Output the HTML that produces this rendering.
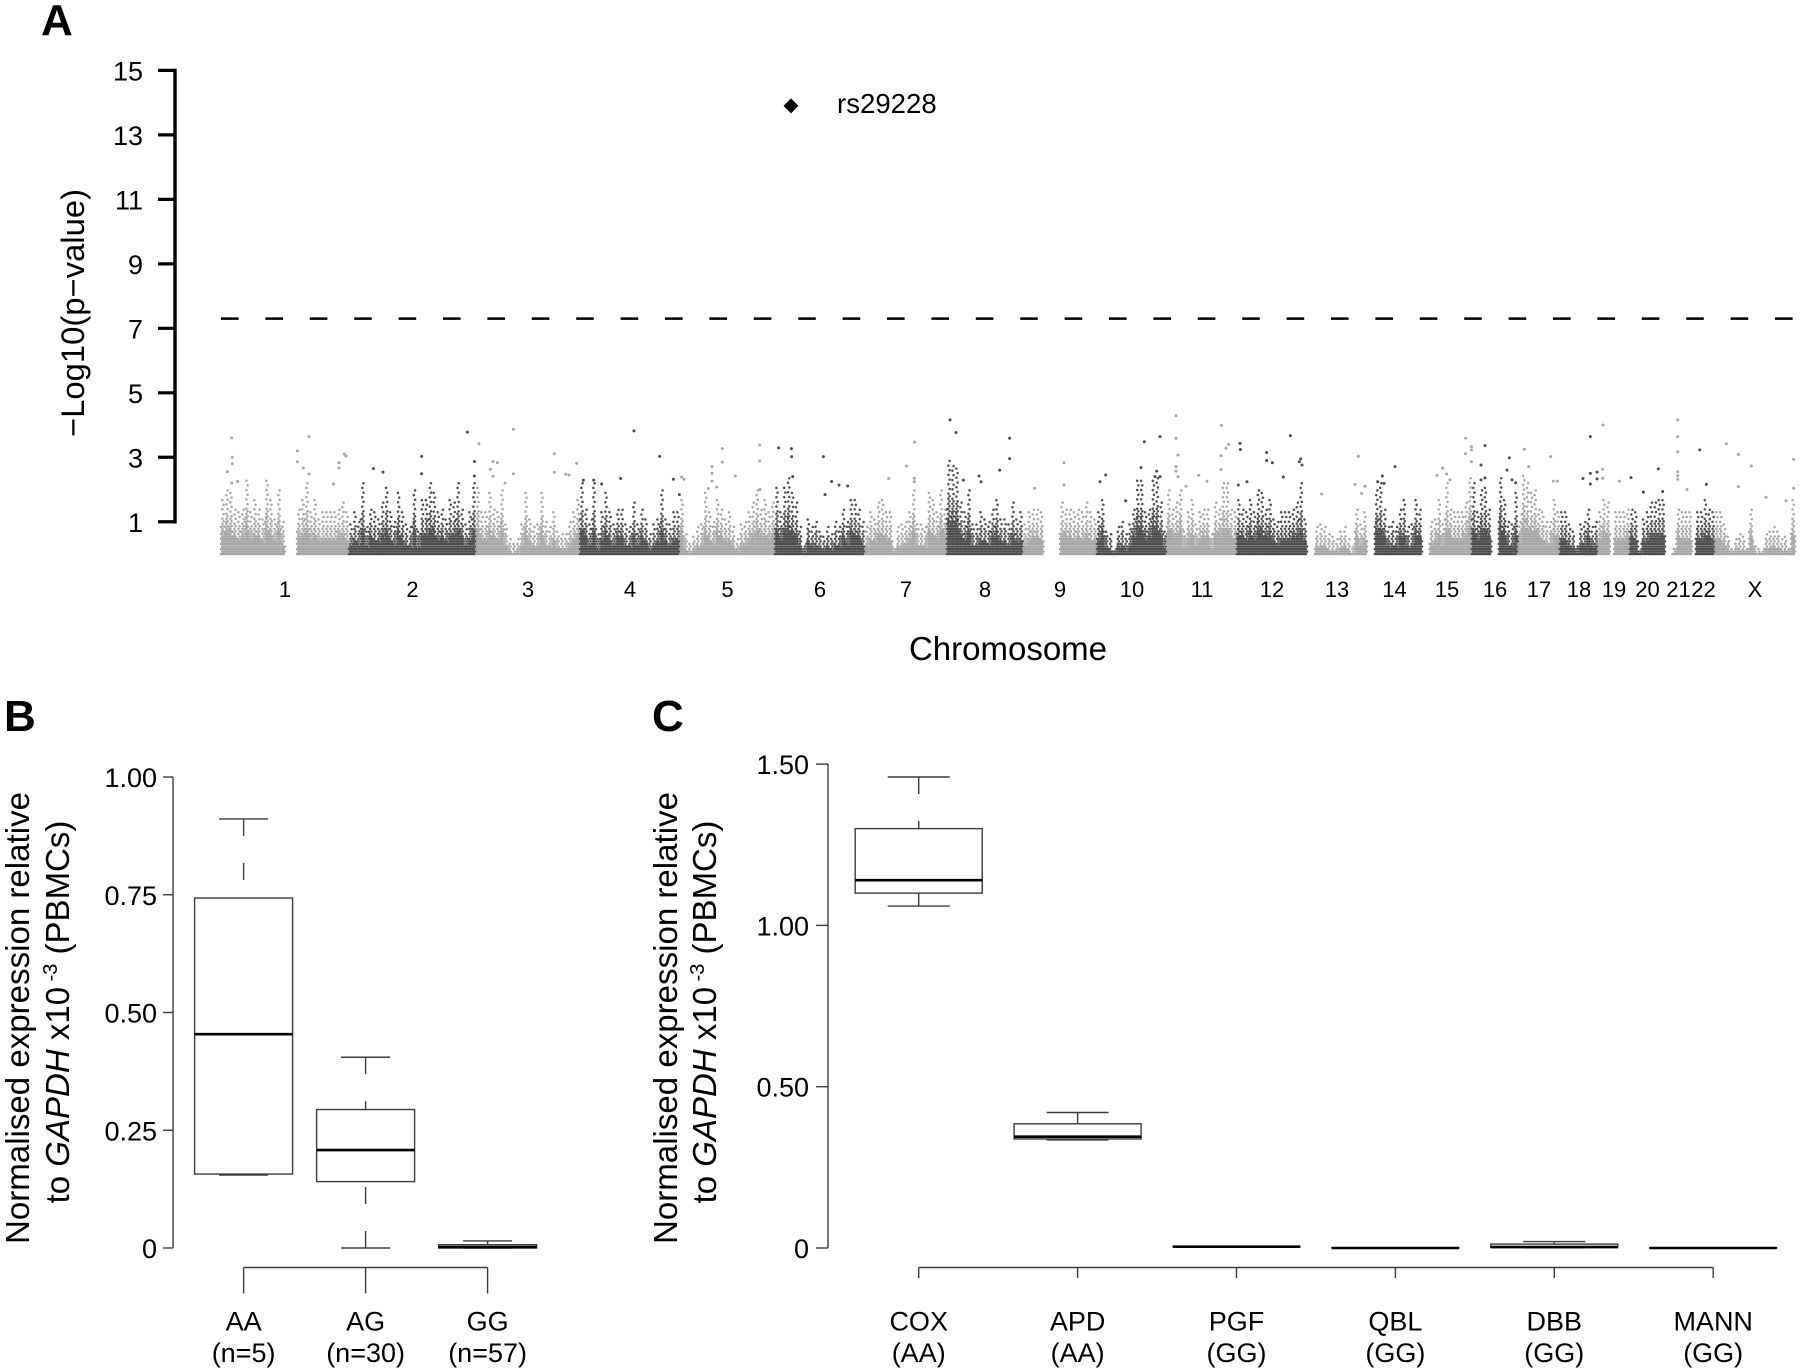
<!DOCTYPE html>
<html lang="en">
<head>
<meta charset="utf-8">
<title>Manhattan plot and expression box plots</title>
<style>
html,body{margin:0;padding:0;background:#fff;}
svg{display:block;font-family:"Liberation Sans",sans-serif;fill:#000;}
</style>
</head>
<body>
<svg id="figure" xmlns="http://www.w3.org/2000/svg" width="1800" height="1372" viewBox="0 0 1800 1372">
  <rect x="0" y="0" width="1800" height="1372" fill="#fff"/>
  <text x="41" y="35" font-size="44" font-weight="700">A</text>
  <text x="4" y="731" font-size="44" font-weight="700">B</text>
  <text x="652" y="731" font-size="44" font-weight="700">C</text>
  <text transform="translate(84,313) rotate(-90)" text-anchor="middle" font-size="32" textLength="248" lengthAdjust="spacingAndGlyphs">−Log10(p−value)</text>
  <text x="1008" y="660" text-anchor="middle" font-size="33">Chromosome</text>
  <text transform="translate(29,1018) rotate(-90)" text-anchor="middle" font-size="33" textLength="452" lengthAdjust="spacingAndGlyphs">Normalised expression relative</text>
  <text transform="translate(69,1012) rotate(-90)" text-anchor="middle" font-size="33">to <tspan font-style="italic">GAPDH</tspan> x10<tspan dy="-12" font-size="20"> -3</tspan><tspan dy="12"> (PBMCs)</tspan></text>
  <text transform="translate(677,1018) rotate(-90)" text-anchor="middle" font-size="33" textLength="452" lengthAdjust="spacingAndGlyphs">Normalised expression relative</text>
  <text transform="translate(716,1012) rotate(-90)" text-anchor="middle" font-size="33">to <tspan font-style="italic">GAPDH</tspan> x10<tspan dy="-12" font-size="20"> -3</tspan><tspan dy="12"> (PBMCs)</tspan></text>
</svg>
<script>
/* ---------- Panel A data ---------- */
const chromNames = ["1","2","3","4","5","6","7","8","9","10","11","12","13","14","15","16","17","18","19","20","21","22","X"];
const chromLengths = [256,254,208,200,190,180,164,152,148,140,140,140,120,110,100,92,84,76,64,70,54,46,160];
const manhattanTicks = [1,3,5,7,9,11,13,15];
const genomeThreshold = 7.3;
const hitLabel = "rs29228";
const hitPosition = 1140;
const hitValue = 13.9;
/* column-by-column top of the point cloud, -log10(p), one row per chromosome */
const chromPeaks = [
 [1.8,2.0,1.9,1.5,1.3,1.5,2.3,1.3,1.7,1.5,1.2,2.3,1.7,1.2,2.0,1.1,0,0,0,1.5,1.7,2.2,1.4,1.7,1.2,1.3,1.4,1.4,1.3,1.5,1.6,1.3],
 [1.0,1.3,1.1,2.2,0.9,1.5,1.4,1.2,1.6,2.1,1.3,1.1,1.9,1.4,1.0,0.9,2.0,0.8,1.7,1.7,2.2,1.9,1.3,1.5,1.2,1.7,1.6,2.2,1.5,1.0,1.3,2.2],
 [2.1,1.4,1.3,1.9,1.5,1.3,2.0,1.0,0.5,0.4,0.5,1.0,1.9,1.2,0.9,1.0,1.9,1.1,0.9,1.3,0.8,0.7,0.7,1.1,1.3,1.7],
 [2.2,1.5,1.0,2.2,0.7,1.4,1.9,1.4,1.0,1.5,1.5,1.0,0.9,1.6,1.0,1.5,1.2,0.7,1.0,1.2,2.0,1.2,1.0,1.3,1.3],
 [1.8,0.7,0.4,0.6,0.9,1.0,1.9,1.4,1.1,1.8,1.5,1.2,1.3,0.9,0.5,1.0,1.1,1.3,1.6,2.0,1.5,1.7,1.4,1.6],
 [2.1,1.3,2.1,2.4,1.9,1.6,0.9,0.3,1.2,0.9,1.1,0.8,0.6,0.9,0.7,1.1,0.9,1.5,1.1,1.8,1.7,1.5,1.1],
 [0.9,1.3,1.2,1.6,1.7,1.4,1.3,0.2,0.9,1.0,1.1,1.4,2.0,1.0,1.0,0.9,1.9,1.7,1.3,2.0,1.5],
 [3.0,2.8,2.7,1.6,1.3,2.0,1.0,1.0,1.4,1.2,1.1,1.5,1.8,1.2,1.2,1.0,1.6,1.2,1.4],
 [1.0,1.4,1.5,1.5,1.4,0,0,0,0,1.6,1.5,1.5,1.4,1.5,1.3,1.6,1.4,1.2],
 [1.4,1.8,0.8,0.7,0.1,0.9,1.1,0.7,1.0,1.5,2.3,2.3,1.4,1.5,2.3,2.4,1.6,0.8],
 [2.0,1.5,1.6,2.0,0.8,1.4,1.7,1.0,1.4,1.5,1.5,0.7,1.6,1.5,2.2,2.2,1.5,1.4],
 [1.7,1.5,1.4,1.8,1.3,2.0,1.9,1.5,1.8,1.2,1.1,1.4,1.4,1.4,1.5,1.6,2.2,1.2],
 [0,0,0.9,1.0,0.9,0.7,0.6,0.5,0.8,0.9,0.5,0.3,1.5,1.0,1.4],
 [0,0,2.0,2.2,1.5,0.9,1.1,0.9,1.5,1.7,0.9,1.0,1.8,1.5],
 [0,0,1.1,1.2,1.7,1.0,2.2,1.5,1.3,1.4,1.4,1.6,2.4],
 [2.2,1.4,2.0,2.1,1.5,0,0,2.4,1.8,1.1,1.0,1.9],
 [1.1,2.5,2.2,1.9,2.0,1.5,1.3,1.1,1.1,1.7,1.4],
 [1.3,1.4,1.0,0.8,0.3,1.0,1.1,1.5,0.9,1.1],
 [1.4,1.8,1.6,0,1.3,1.3,1.3,1.5],
 [1.5,1.4,0.1,1.2,1.3,1.6,1.6,1.7,1.7],
 [0,0,0.2,1.5,1.3,1.3,1.3],
 [0,1.4,1.4,1.7,1.5,1.4],
 [1.3,1.3,1.0,0.6,0.2,0.5,0.7,0.6,0.2,1.5,0.3,0.2,0.1,0.7,0.8,0.9,0.8,0.5,0.6,0.2,1.7]
];
/* isolated points above the cloud: genome position and -log10(p) */
const outlierPositions = [21.3,22.7,22.7,12.7,21.3,33.3,176,152.7,152.7,164.7,176,236,236,246.7,250,224.7,304.7,324,401.3,401.3,492.7,507,506.7,516,544,552.7,538.7,544,584.7,584.7,666.7,666.7,711.3,689.3,696,568,724.7,745.3,761.3,799.3,826,877.3,904.7,916.7,921.3,926,1002.7,1002.7,982,982,982,1028.7,1077.3,1077.3,974.7,1078,991.3,1115.3,1140.7,1141.3,1143.3,1204.7,1221.3,1236,1253.3,1208,1335.3,1371.3,1387.3,1386.7,1386.7,1458,1470,1577.3,1577.3,1557.3,1516,1520,1484.7,1627.3,1686,1686,1758,1769.3,1846.7,1878,1840,1871.3,1868,1878,1809.3,1910,1910,1914,1910,1910,1914,1955.3,1972,2000.7,2015.3,2010,2000,2000,1930,2038,2038.7,2138.7,2091.3,2091.3,2102.7,2156.7,2159.3,2162,2124.7,2052,2034.7,2201.3,2274.7,2268,2281.3,2288,2348,2322.7,2326,2313.3,2489.3,2488.7,2501,2501,2501,2443.3,2432,2451.3,2458,2528,2520,2576.7,2572,2582,2589.3,2520,2528,2606.7,2659.3,2615.3,2664.7,2672.7,2738.7,2724,2738.7,2738.7,2752,2752,2764,2763.3,2763.3,2796.7,2820,2874.7,2883.3,2844.7,2913.3,2913.3,2913.3,2913.3,2913.3,2913.3,2932,2957.3,2970.7,3010.7,3034.7,3060.7,3034.7,3145.3,3145.3,3090,3130];
const outlierValues = [3.6,3.0,2.8,2.55,2.2,2.25,3.64,3.2,2.86,2.67,2.48,2.83,2.67,3.1,3.04,2.17,2.65,2.54,3.03,2.49,3.78,2.87,2.42,3.42,2.87,2.83,2.63,2.41,3.87,2.49,3.11,2.53,2.81,2.47,2.45,2.2,2.29,2.29,2.17,2.34,3.82,3.03,2.32,1.84,2.39,2.32,3.27,2.85,2.71,2.5,2.26,2.42,3.38,2.89,2.03,2.0,2.08,3.29,3.27,3.02,2.4,3.02,2.25,2.14,2.11,1.84,2.34,2.73,3.47,2.35,2.24,4.16,3.77,3.59,2.96,2.6,2.42,2.24,2.29,2.04,2.83,2.14,2.24,2.45,3.48,3.64,2.68,2.57,2.4,2.4,1.65,4.29,3.59,3.07,2.71,2.57,2.4,2.44,2.26,3.99,3.4,3.28,3.05,2.62,2.1,3.43,3.24,3.67,3.15,2.9,2.83,2.86,2.95,2.76,2.39,2.24,2.14,1.86,3.03,2.16,1.88,2.1,2.71,2.42,2.19,2.24,3.59,3.11,3.33,3.23,2.86,2.66,2.44,2.48,2.3,3.36,2.76,2.98,2.6,2.3,2.21,2.3,2.36,3.25,3.02,2.71,2.26,2.26,3.64,2.34,2.5,2.17,2.54,2.33,4.0,2.63,2.35,2.26,2.37,2.64,1.94,1.92,4.16,3.64,3.17,2.55,2.43,2.32,2.0,3.23,2.16,3.42,3.09,2.73,2.09,2.94,2.04,1.76,1.65];

/* ---------- Panel B data ---------- */
const bGenotypes = ["AA","AG","GG"];
const bCounts = ["(n=5)","(n=30)","(n=57)"];
const bWhiskerHigh = [0.911,0.405,0.015];
const bUpperQuartile = [0.743,0.294,0.007];
const bMedian = [0.454,0.208,0.002];
const bLowerQuartile = [0.157,0.141,0.0];
const bWhiskerLow = [0.155,0.0,0.0];
const bTickValues = [0,0.25,0.5,0.75,1];
const bTickLabels = ["0","0.25","0.50","0.75","1.00"];

/* ---------- Panel C data ---------- */
const cSamples = ["COX","APD","PGF","QBL","DBB","MANN"];
const cGenotypes = ["(AA)","(AA)","(GG)","(GG)","(GG)","(GG)"];
const cWhiskerHigh = [1.46,0.42,0.005,0.001,0.02,0.001];
const cUpperQuartile = [1.30,0.385,0.005,0.001,0.012,0.001];
const cMedian = [1.14,0.345,0.004,0.0,0.003,0.0];
const cLowerQuartile = [1.10,0.338,0.003,0.0,0.002,0.0];
const cWhiskerLow = [1.06,0.335,0.003,0.0,0.001,0.0];
const cTickValues = [0,0.5,1,1.5];
const cTickLabels = ["0","0.50","1.00","1.50"];

const NS = "http://www.w3.org/2000/svg";
const svg = document.getElementById("figure");
function mk(tag, attrs, parent, text) {
  const el = document.createElementNS(NS, tag);
  for (const k in attrs) el.setAttribute(k, attrs[k]);
  if (text !== undefined) el.textContent = text;
  (parent || svg).appendChild(el);
  return el;
}

/* ---------- Panel A scales ---------- */
const xA = mb => 221 + mb * 0.5;
const yA = v => 554 - v * 32.24;
const LIGHT = "#a6a6a6";
const DARK = "#4d4d4d";

const panelA = mk("g", {});



/* y axis */
const axisA = mk("line", {x1:175, x2:175, y1:yA(15), y2:yA(1), stroke:"#000", "stroke-width":3.4, "stroke-linecap":"square"}, panelA);


manhattanTicks.forEach(t => {
  const tick = mk("line", {x1:158, x2:175, y1:yA(t), y2:yA(t), stroke:"#000", "stroke-width":3.2}, panelA);
  
  
  const lab = mk("text", {x:143, y:yA(t)+10, "text-anchor":"end", "font-size":27}, panelA, String(t));
  
  
});

/* threshold */
const thr = mk("line", {x1:xA(0), x2:1800, y1:yA(genomeThreshold), y2:yA(genomeThreshold), stroke:"#000", "stroke-width":2.5, "stroke-dasharray":"17.6 26.8"}, panelA);



/* point cloud drawn as columns of dots */
function stack(x, top, split) {
  let d = "";
  let v = 0;
  let k = 0;
  while (v <= top) {
    d += "M" + (x + (k % 2 ? 0.6 : -0.6)).toFixed(1) + " " + yA(v).toFixed(1) + "h0";
    v += v < top * split ? 0.078 : 0.145;
    k++;
  }
  return d;
}
let chromStart = 0;
const chromStarts = [];
chromNames.forEach((name, c) => {
  chromStarts.push(chromStart);
  const len = chromLengths[c];
  const peaks = chromPeaks[c];
  const colour = c % 2 === 0 ? LIGHT : DARK;
  const group = mk("g", {stroke:colour, "stroke-width":2.5, "stroke-linecap":"round", fill:"none"}, panelA);
  
  
  peaks.forEach((p, i) => {
    if (p <= 0) return;
    const mb = chromStart + (i + 0.5) * len / peaks.length;
    const x = xA(mb);
    const side = 0.5 * p * Math.min(1, p / 1.5);
    const d = stack(x, p, 0.6) + stack(x - 1.4, side, 0.7) + stack(x + 1.4, side * 0.8, 0.7);
    const col = mk("path", {d:d}, group);
    
    
  });
  const lab = mk("text", {x:xA(chromStart + len / 2), y:597, "text-anchor":"middle", "font-size":22}, panelA, name);
  
  
  chromStart += len;
});

/* isolated points */
outlierPositions.forEach((mb, i) => {
  let c = 0;
  while (c + 1 < chromStarts.length && mb >= chromStarts[c + 1]) c++;
  const pt = mk("circle", {cx:xA(mb), cy:yA(outlierValues[i]), r:1.5, fill:c % 2 === 0 ? LIGHT : DARK}, panelA);
  
  
});

/* top hit */
const hx = xA(hitPosition);
const hy = yA(hitValue);
const hit = mk("path", {d:"M"+hx+" "+(hy-7.5)+"L"+(hx+7.5)+" "+hy+"L"+hx+" "+(hy+7.5)+"L"+(hx-7.5)+" "+hy+"Z", fill:"#000"}, panelA);


const hitText = mk("text", {x:hx+46, y:hy+7, "font-size":27.6}, panelA, hitLabel);



/* ---------- Box plot panels ---------- */
function drawBoxes(name, o) {
  const g = mk("g", {fill:"none", stroke:"#3c3c3c", "stroke-width":1.4});
  
  
  const tv = o.tickValues;
  const ax = mk("line", {x1:o.axisX, x2:o.axisX, y1:o.y(tv[tv.length-1]), y2:o.y(tv[0])}, g);
  
  
  tv.forEach((t, i) => {
    const tk = mk("line", {x1:o.axisX - o.tickLen, x2:o.axisX, y1:o.y(t), y2:o.y(t)}, g);
    
    
    const lb = mk("text", {x:o.labelX, y:o.y(t)+10, "text-anchor":"end", "font-size":27, fill:"#000", stroke:"none"}, g, o.tickLabels[i]);
    
    
  });
  const n = o.cats.length;
  const base = mk("line", {x1:o.x(0), x2:o.x(n-1), y1:1267.5, y2:1267.5}, g);
  
  
  o.cats.forEach((cat, i) => {
    const cx = o.x(i);
    const tk = mk("line", {x1:cx, x2:cx, y1:1267.5, y2:o.xTickEnd}, g);
    
    
    const l1 = mk("text", {x:cx, y:1330.5, "text-anchor":"middle", "font-size":27, fill:"#000", stroke:"none"}, g, cat);
    
    
    const l2 = mk("text", {x:cx, y:1362, "text-anchor":"middle", "font-size":27, fill:"#000", stroke:"none"}, g, o.subs[i]);
    
    

    const wh = mk("line", {x1:cx, x2:cx, y1:o.y(o.hi[i]), y2:o.y(o.q3[i]), "stroke-dasharray":"17 27"}, g);
    
    
    const wl = mk("line", {x1:cx, x2:cx, y1:o.y(o.lo[i]), y2:o.y(o.q1[i]), "stroke-dasharray":"17 27"}, g);
    
    
    const ch = mk("line", {x1:cx-o.capW/2, x2:cx+o.capW/2, y1:o.y(o.hi[i]), y2:o.y(o.hi[i])}, g);
    
    
    const cl = mk("line", {x1:cx-o.capW/2, x2:cx+o.capW/2, y1:o.y(o.lo[i]), y2:o.y(o.lo[i])}, g);
    
    
    const box = mk("rect", {x:cx-o.boxW/2, y:o.y(o.q3[i]), width:o.boxW, height:Math.max(0.2, o.y(o.q1[i])-o.y(o.q3[i]))}, g);
    
    
    const md = mk("line", {x1:cx-o.boxW/2, x2:cx+o.boxW/2, y1:o.y(o.med[i]), y2:o.y(o.med[i]), stroke:"#000", "stroke-width":2.6}, g);
    
    
  });
}
drawBoxes("panel-b", {
  x: i => 243.6 + i * 122, y: v => 1248 - v * 471,
  axisX:173, tickLen:10, labelX:157, xTickEnd:1293.5, boxW:98, capW:49,
  cats:bGenotypes, subs:bCounts, hi:bWhiskerHigh, q3:bUpperQuartile, med:bMedian, q1:bLowerQuartile, lo:bWhiskerLow,
  tickValues:bTickValues, tickLabels:bTickLabels
});
drawBoxes("panel-c", {
  x: i => 918.7 + i * 158.9, y: v => 1248 - v * 322.6,
  axisX:828, tickLen:12, labelX:809, xTickEnd:1278, boxW:127, capW:62,
  cats:cSamples, subs:cGenotypes, hi:cWhiskerHigh, q3:cUpperQuartile, med:cMedian, q1:cLowerQuartile, lo:cWhiskerLow,
  tickValues:cTickValues, tickLabels:cTickLabels
});
</script>
</body>
</html>
